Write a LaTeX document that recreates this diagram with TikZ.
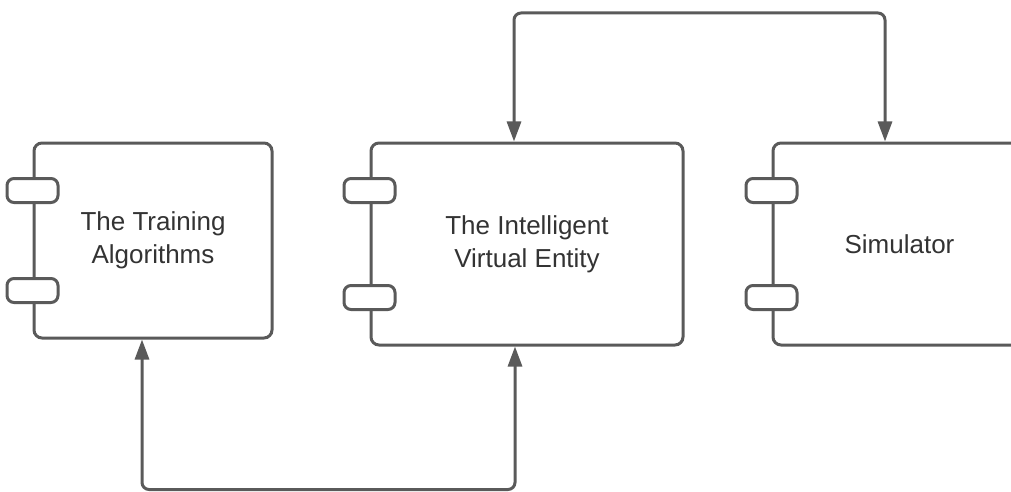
\documentclass[tikz,border=0pt]{standalone}
\usepackage{fontspec}
\setmainfont{Liberation Sans}
\usetikzlibrary{arrows.meta}

\definecolor{linegray}{HTML}{5A5A5A}
\definecolor{textgray}{HTML}{333333}

\tikzset{
    comp/.style={draw=linegray, line width=3pt, rounded corners=8pt, fill=white,
        align=center, text=textgray, font=\fontsize{26}{33}\selectfont},
    tab/.style={draw=linegray, line width=3pt, rounded corners=7pt, fill=white,
        minimum width=51pt, minimum height=24pt, inner sep=0pt},
    conn/.style={draw=linegray, line width=3pt, rounded corners=7pt,
        {Triangle[length=20pt,width=14pt]}-{Triangle[length=20pt,width=14pt]}}
}

\begin{document}
\begin{tikzpicture}[x=1pt, y=-1pt]

    \useasboundingbox (0,0) rectangle (1011,492);
    \clip (0,0) rectangle (1011,492);   % simulator box runs off the page

    \node[comp, minimum width=238pt, minimum height=195pt] (train) at (153,240.5) {The Training\\Algorithms};
    \node[comp, minimum width=312pt, minimum height=202pt] (ive) at (527,244) {The Intelligent\\Virtual Entity};
    \node[comp, minimum width=253pt, minimum height=202pt] (sim) at (899.5,244) {Simulator};

    % little tabs on the left side
    \foreach \b in {train, ive, sim} {
        \node[tab] (\b-t1) at ([yshift=-49pt]\b.north west) {};
        \node[tab] (\b-t2) at ([yshift=49pt]\b.south west) {};
    }

    \coordinate (topl) at (514,13);
    \coordinate (topr) at (885,13);
    \coordinate (botl) at (142,489.5);
    \coordinate (botr) at (515,489.5);

    \draw[conn] (topl |- ive.north) -- (topl) -- (topr) -- (topr |- sim.north);
    \draw[conn] (botl |- train.south) -- (botl) -- (botr) -- (botr |- ive.south);

\end{tikzpicture}
\end{document}
